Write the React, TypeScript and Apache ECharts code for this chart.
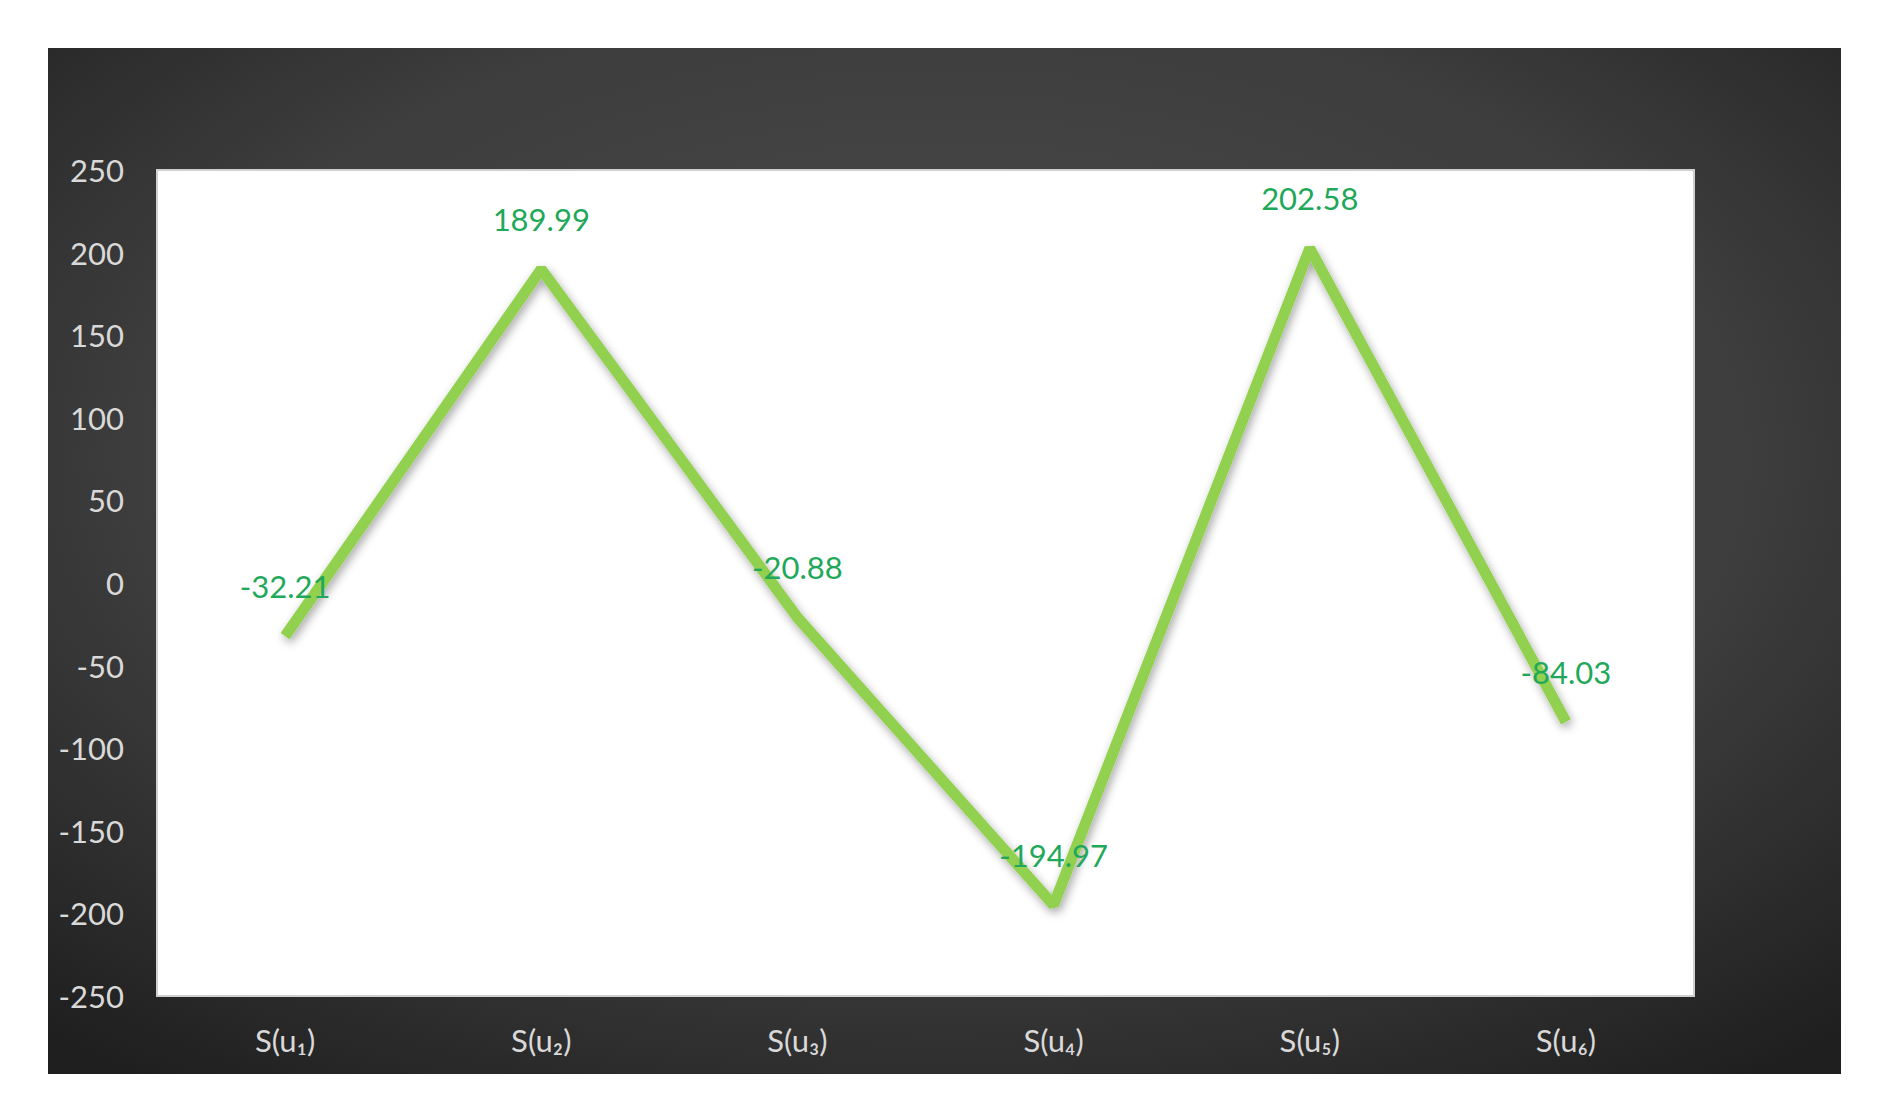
import React, { useEffect, useRef } from "react";
import * as echarts from "echarts";

const categories = ["S(u₁)", "S(u₂)", "S(u₃)", "S(u₄)", "S(u₅)", "S(u₆)"];
const values = [-32.21, 189.99, -20.88, -194.97, 202.58, -84.03];
const yMin = -250;
const yMax = 250;
const yInterval = 50;

export default function App() {
  const ref = useRef<HTMLDivElement>(null);
  useEffect(() => {
    if (!ref.current) return;
    const chart = echarts.init(ref.current, undefined, { renderer: "svg" });
    chart.setOption({
      animation: false,
      backgroundColor: "#ffffff",
      graphic: [
        {
          type: "rect",
          z: -10,
          silent: true,
          shape: { x: 48, y: 48, width: 1793, height: 1026 },
          style: {
            fill: new echarts.graphic.RadialGradient(0.5, 0.4, 0.75, [
              { offset: 0, color: "#4e4e4e" },
              { offset: 0.6, color: "#3d3d3d" },
              { offset: 1, color: "#1f1f1f" },
            ]),
          },
        },
      ],
      grid: {
        left: 157,
        right: 183,
        top: 170,
        bottom: 113,
        show: true,
        backgroundColor: "#ffffff",
        borderColor: "#d0d0d0",
        borderWidth: 2,
      },
      xAxis: {
        type: "category",
        data: categories,
        boundaryGap: true,
        axisLine: { show: false },
        axisTick: { show: false },
        axisLabel: {
          color: "#d9d9d9",
          fontFamily: "Lato",
          fontSize: 31,
          margin: 28,
        },
      },
      yAxis: {
        type: "value",
        min: yMin,
        max: yMax,
        interval: yInterval,
        axisLine: { show: false },
        axisTick: { show: false },
        splitLine: { show: false },
        axisLabel: {
          color: "#d9d9d9",
          fontFamily: "Lato",
          fontSize: 31,
          margin: 33,
        },
      },
      series: [
        {
          type: "line",
          data: values,
          symbol: "circle",
          symbolSize: 1,
          showSymbol: true,
          itemStyle: { color: "rgba(0,0,0,0)" },
          lineStyle: {
            color: "#92D050",
            width: 11,
            shadowColor: "rgba(0,0,0,0.35)",
            shadowBlur: 10,
            shadowOffsetX: 2,
            shadowOffsetY: 4,
          },
          label: {
            show: true,
            position: "top",
            distance: 34,
            color: "#1fa85a",
            fontFamily: "Lato",
            fontSize: 31,
            formatter: (p: any) => p.value.toFixed(2),
          },
        },
      ],
    });
    return () => chart.dispose();
  }, []);
  return (
    <div
      ref={ref}
      style={{ position: "absolute", left: 0, top: 0, width: 1877, height: 1109 }}
    />
  );
}
